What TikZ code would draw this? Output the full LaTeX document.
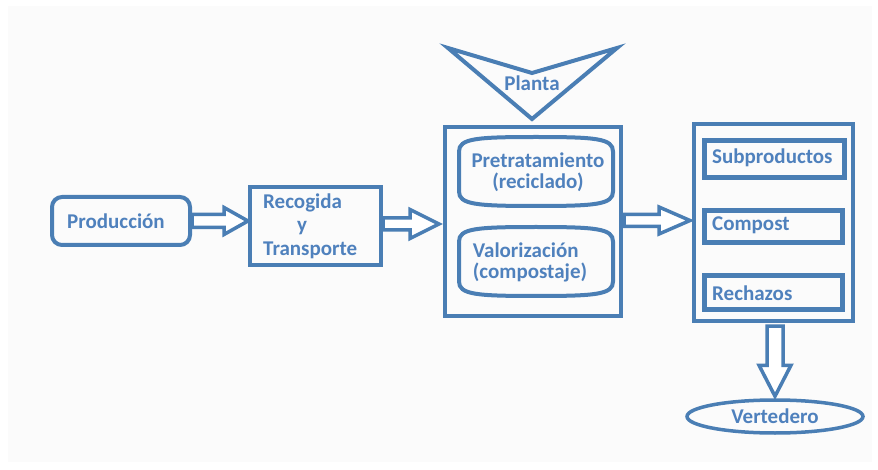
\documentclass[tikz,border=0pt]{standalone}
\usepackage{fontspec}
\setmainfont{Carlito}
\usetikzlibrary{calc,shapes.geometric}
\definecolor{lc}{HTML}{4A7EB4}
\definecolor{tc}{HTML}{4F81BD}
\tikzset{
  boxline/.style={draw=lc, line width=4pt},
  lbl/.style={text=tc, font=\fontsize{21}{21}\selectfont\bfseries, inner sep=0pt},
  barrow/.style={draw=lc, line width=3.5pt, fill=white, line join=miter},
}
\newcommand\harrow[5]{%
  \draw[barrow] let \p1=(#1), \p2=(#2) in
    (\x1,\y1+#3) -- (\x2-#5,\y1+#3) -- (\x2-#5,\y1+#4) -- (\x2,\y1)
    -- (\x2-#5,\y1-#4) -- (\x2-#5,\y1-#3) -- (\x1,\y1-#3) -- cycle;}
\newcommand\varrow[5]{%
  \draw[barrow] let \p1=(#1), \p2=(#2) in
    (\x1+#3,\y1) -- (\x1+#3,\y2+#5) -- (\x1+#4,\y2+#5) -- (\x1,\y2)
    -- (\x1-#4,\y2+#5) -- (\x1-#3,\y2+#5) -- (\x1-#3,\y1) -- cycle;}
\begin{document}
\begin{tikzpicture}[x=1pt,y=-1pt]
\useasboundingbox (0,0) rectangle (878,470);
\fill[white] (0,0) rectangle (878,470);
\fill[fill={rgb,255:red,251;green,251;blue,251}] (8,6) rectangle (872,462);

% Produccion
\node[boxline, rounded corners=10pt, minimum width=138pt, minimum height=48pt] (prod) at (121,221) {};
\node[lbl] (prodt) at (116,221) {Producción};

% Recogida y transporte
\node[boxline, minimum width=131pt, minimum height=78pt] (recog) at (315.5,226) {};
\node[lbl, anchor=west] (recog1) at (263,203) {Recogida};
\node[lbl] (recog2) at (302,228) {y};
\node[lbl, anchor=west] (recog3) at (263,250) {Transporte};

% Planta
\node[boxline, minimum width=176pt, minimum height=189pt] (planta) at (533,221.5) {};
\draw[boxline, line join=miter] (448,48) -- (532,73) -- (617,48) -- (532,119) -- cycle;
\node[lbl] (plantat) at (532,83) {Planta};

\node[lbl, align=center] (pre) at (538,172.5) {Pretratamiento\\[0pt](reciclado)};
\begin{scope}[shift={(536,171.5)}]
\draw[boxline] (-77,-20) .. controls (-77,-33) and (-60,-34.5) .. (0,-34.5)
  .. controls (60,-34.5) and (77,-33) .. (77,-20) -- (77,20)
  .. controls (77,33) and (60,34.5) .. (0,34.5)
  .. controls (-60,34.5) and (-77,33) .. (-77,20) -- cycle;
\end{scope}
\node[lbl, align=left] (val) at (530,262.5) {Valorización\\[0pt](compostaje)};
\begin{scope}[shift={(536,261.5)}]
\draw[boxline] (-77,-20) .. controls (-77,-33) and (-60,-34.5) .. (0,-34.5)
  .. controls (60,-34.5) and (77,-33) .. (77,-20) -- (77,20)
  .. controls (77,33) and (60,34.5) .. (0,34.5)
  .. controls (-60,34.5) and (-77,33) .. (-77,20) -- cycle;
\end{scope}

% Outputs
\node[boxline, minimum width=159pt, minimum height=197pt] (out) at (773.5,222.5) {};
\node[boxline, line width=5pt, minimum width=140pt, minimum height=37pt] (sub) at (774.5,159) {};
\node[lbl, anchor=west] (subt) at (712,158) {Subproductos};
\node[boxline, line width=5pt, minimum width=138pt, minimum height=32pt] (comp) at (773.5,226.5) {};
\node[lbl, anchor=west] (compt) at (712,225) {Compost};
\node[boxline, line width=5pt, minimum width=138pt, minimum height=34pt] (rech) at (773.5,292.5) {};
\node[lbl, anchor=west] (recht) at (712,293) {Rechazos};

% Vertedero
\node[ellipse, draw=lc, line width=3.5pt, minimum width=176pt, minimum height=33pt, inner sep=0pt] (vert) at (775,416.5) {};
\node[lbl] (vertt) at (775,416) {Vertedero};

% Block arrows
\harrow{prod.east}{recog.west}{6.5pt}{13.5pt}{24pt}
\harrow{[yshift=2pt]recog.east}{[xshift=-4pt]planta.west}{6pt}{14.5pt}{29pt}
\harrow{[yshift=1pt,xshift=1pt]planta.east}{[xshift=-2pt]out.west}{6pt}{13.5pt}{31pt}
\varrow{[xshift=1.5pt,yshift=-3pt]out.south}{[yshift=2pt]vert.north}{8pt}{16pt}{31pt}
\end{tikzpicture}
\end{document}
